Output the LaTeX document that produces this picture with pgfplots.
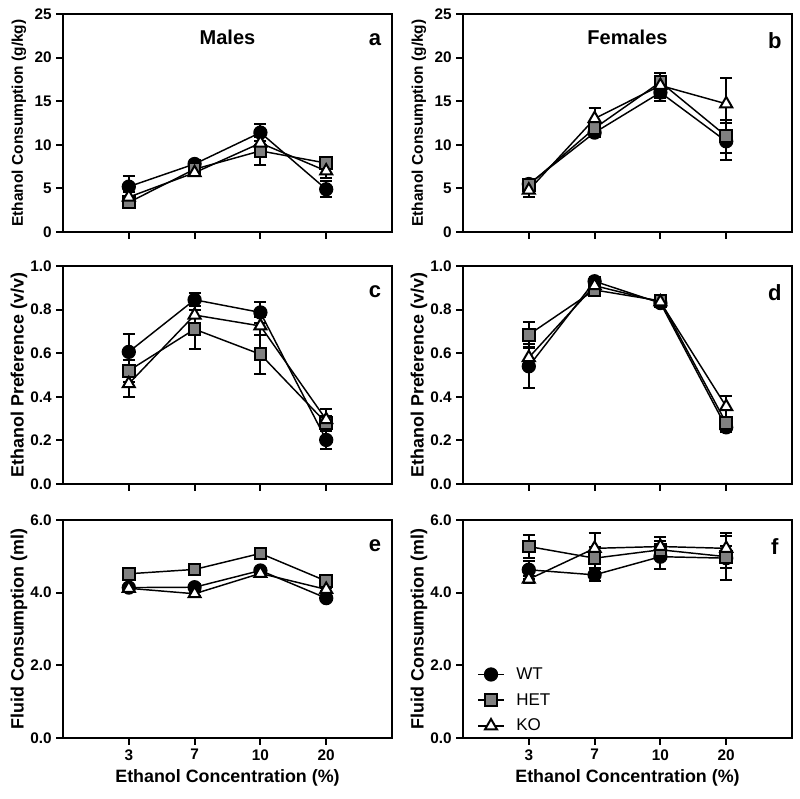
\documentclass[border=0pt]{standalone}
\usepackage{fontspec}
\setmainfont{Liberation Sans}
\usepackage{pgfplots}
\pgfplotsset{compat=1.18}
\definecolor{hetgray}{RGB}{128,128,128}

\pgfplotsset{
  panel/.style={
    scale only axis, width=246.75pt, height=163.5pt,
    xmin=0, xmax=5, xtick={1,2,3,4}, xticklabels={},
    axis line style={line width=1.5pt}, tick style={line width=1.5pt, black},
    tick align=outside, tick pos=left, major tick length=5pt,
    ticklabel style={font=\fontsize{11.5}{12}\selectfont\bfseries},
    label style={font=\fontsize{13.4}{15}\selectfont\bfseries},
    ylabel style={at={(axis description cs:-0.134,0.5)}, anchor=center},
    /pgf/number format/assume math mode=true,
    clip=false,
  },
  smalllabel/.style={ylabel style={font=\fontsize{11.6}{13}\selectfont\bfseries}},
  onedec/.style={yticklabel style={/pgf/number format/.cd, fixed, fixed zerofill, precision=1}},
  ebar/.style={error bars/.cd, y dir=both, y explicit,
    error bar style={line width=1.5pt, black},
    error mark options={rotate=90, mark size=4.5pt, line width=1.5pt, black}},
  wt/.style={black, line width=1.1pt, mark=*, mark size=4.8pt,
    mark options={solid, fill=black, line width=1.1pt}, ebar},
  het/.style={black, line width=1.1pt, mark=square*, mark size=4.4pt,
    mark options={solid, fill=hetgray, line width=1.5pt}, ebar},
  ko/.style={black, line width=1.1pt, mark=triangle*, mark size=5.2pt,
    mark options={solid, fill=white, line width=1.5pt}, ebar},
}
\tikzset{
  paneltitle/.style={font=\fontsize{15}{16}\selectfont\bfseries},
  panelletter/.style={font=\fontsize{16.5}{18}\selectfont\bfseries},
}

\begin{document}
\begin{tikzpicture}
\useasboundingbox (0,0) rectangle (600pt,-599.25pt);

% a: males, consumption
\begin{axis}[panel, smalllabel, at={(47.25pt,-10.5pt)}, anchor=north west,
  ymin=0, ymax=25, ytick={0,5,10,15,20,25},
  ylabel={Ethanol Consumption (g/kg)}]
\addplot[wt] coordinates {(1,5.2) +- (0,1.2) (2,7.8) +- (0,0.5) (3,11.4) +- (0,1.0) (4,4.9) +- (0,0.9)};
\addplot[het] coordinates {(1,3.4) +- (0,0.5) (2,7.2) +- (0,0.5) (3,9.3) +- (0,1.6) (4,7.9) +- (0,0.6)};
\addplot[ko] coordinates {(1,4.0) +- (0,0.6) (2,6.8) +- (0,0.4) (3,10.2) +- (0,1.0) (4,7.0) +- (0,0.8)};
\node[paneltitle] at (axis description cs:0.5,0.895) {Males};
\node[panelletter] at (axis description cs:0.948,0.88) {a};
\end{axis}

% b: females, consumption
\begin{axis}[panel, smalllabel, at={(347.25pt,-10.5pt)}, anchor=north west,
  ymin=0, ymax=25, ytick={0,5,10,15,20,25},
  ylabel={Ethanol Consumption (g/kg)}]
\addplot[wt] coordinates {(1,5.5) +- (0,0.6) (2,11.4) +- (0,0.5) (3,16.0) +- (0,1.0) (4,10.4) +- (0,2.1)};
\addplot[het] coordinates {(1,5.4) +- (0,0.7) (2,11.9) +- (0,0.6) (3,17.2) +- (0,1.0) (4,11.0) +- (0,1.9)};
\addplot[ko] coordinates {(1,4.8) +- (0,0.8) (2,13.0) +- (0,1.2) (3,16.8) +- (0,1.4) (4,14.7) +- (0,3.0)};
\node[paneltitle] at (axis description cs:0.5,0.895) {Females};
\node[panelletter] at (axis description cs:0.948,0.88) {b};
\end{axis}

% c: males, preference
\begin{axis}[panel, onedec, at={(47.25pt,-199.5pt)}, anchor=north west,
  ymin=0, ymax=1, ytick={0,0.2,0.4,0.6,0.8,1.0},
  ylabel={Ethanol Preference (v/v)}]
\addplot[wt] coordinates {(1,0.606) +- (0,0.08) (2,0.845) +- (0,0.03) (3,0.787) +- (0,0.05) (4,0.202) +- (0,0.04)};
\addplot[het] coordinates {(1,0.52) +- (0,0.05) (2,0.71) +- (0,0.09) (3,0.595) +- (0,0.09) (4,0.28) +- (0,0.03)};
\addplot[ko] coordinates {(1,0.46) +- (0,0.06) (2,0.775) +- (0,0.04) (3,0.725) +- (0,0.04) (4,0.295) +- (0,0.05)};
\node[panelletter] at (axis description cs:0.948,0.88) {c};
\end{axis}

% d: females, preference
\begin{axis}[panel, onedec, at={(347.25pt,-199.5pt)}, anchor=north west,
  ymin=0, ymax=1, ytick={0,0.2,0.4,0.6,0.8,1.0},
  ylabel={Ethanol Preference (v/v)}]
\addplot[wt] coordinates {(1,0.54) +- (0,0.10) (2,0.93) +- (0,0.02) (3,0.83) +- (0,0.02) (4,0.26) +- (0,0.02)};
\addplot[het] coordinates {(1,0.685) +- (0,0.06) (2,0.89) +- (0,0.02) (3,0.84) +- (0,0.02) (4,0.28) +- (0,0.02)};
\addplot[ko] coordinates {(1,0.58) +- (0,0.05) (2,0.91) +- (0,0.02) (3,0.835) +- (0,0.02) (4,0.355) +- (0,0.05)};
\node[panelletter] at (axis description cs:0.948,0.88) {d};
\end{axis}

% e: males, fluid
\begin{axis}[panel, onedec, at={(47.25pt,-390pt)}, anchor=north west,
  ymin=0, ymax=6, ytick={0,2,4,6},
  xticklabels={3,7,10,20},
  ylabel={Fluid Consumption (ml)}, xlabel={Ethanol Concentration (\%)}]
\addplot[wt] coordinates {(1,4.14) +- (0,0.05) (2,4.15) +- (0,0.08) (3,4.61) +- (0,0.06) (4,3.85) +- (0,0.06)};
\addplot[het] coordinates {(1,4.52) +- (0,0.05) (2,4.64) +- (0,0.05) (3,5.08) +- (0,0.05) (4,4.32) +- (0,0.05)};
\addplot[ko] coordinates {(1,4.12) +- (0,0.05) (2,3.97) +- (0,0.05) (3,4.53) +- (0,0.05) (4,4.09) +- (0,0.05)};
\node[panelletter] at (axis description cs:0.948,0.88) {e};
\end{axis}

% f: females, fluid
\begin{axis}[panel, onedec, at={(347.25pt,-390pt)}, anchor=north west,
  ymin=0, ymax=6, ytick={0,2,4,6},
  xticklabels={3,7,10,20},
  ylabel={Fluid Consumption (ml)}, xlabel={Ethanol Concentration (\%)},
  legend style={at={(axis description cs:0.044,0.01)}, anchor=south west,
    draw=none, fill=none, inner sep=0pt, font=\fontsize{12.75}{14}\selectfont,
    row sep=5pt, /tikz/every odd column/.append style={column sep=7pt}},
  legend cell align=left,
  legend image code/.code={\draw[mark repeat=2, mark phase=2]
    plot coordinates {(0pt,0pt) (9.4pt,0pt) (18.8pt,0pt)};}]
\addplot[wt] coordinates {(1,4.63) +- (0,0.25) (2,4.49) +- (0,0.18) (3,4.99) +- (0,0.35) (4,4.95) +- (0,0.6)};
\addplot[het] coordinates {(1,5.27) +- (0,0.32) (2,4.95) +- (0,0.3) (3,5.18) +- (0,0.25) (4,4.99) +- (0,0.3)};
\addplot[ko] coordinates {(1,4.37) +- (0,0.1) (2,5.22) +- (0,0.41) (3,5.27) +- (0,0.25) (4,5.22) +- (0,0.41)};
\legend{WT,HET,KO}
\node[panelletter] at (axis description cs:0.948,0.88) {f};
\end{axis}
\end{tikzpicture}
\end{document}
